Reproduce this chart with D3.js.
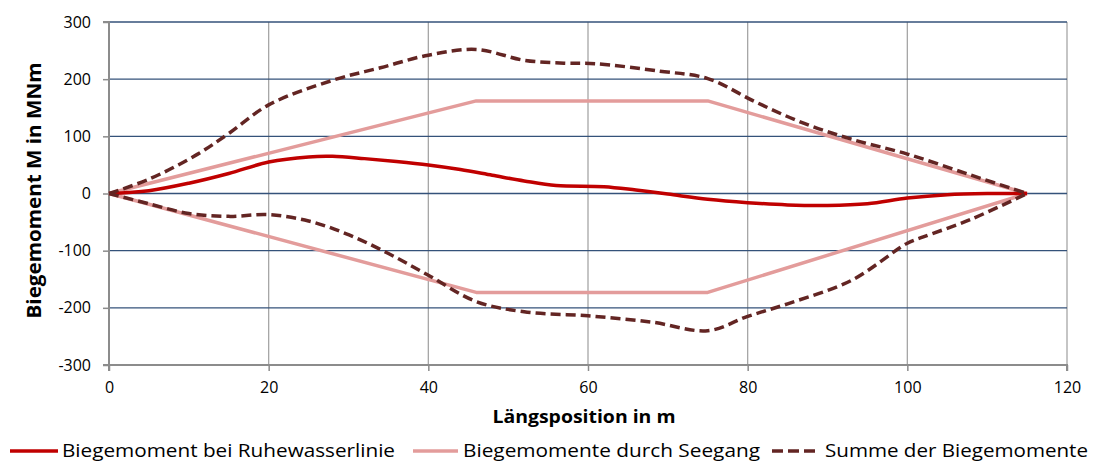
<!DOCTYPE html>
<html>
<head>
<meta charset="utf-8">
<script src="https://cdn.jsdelivr.net/npm/d3@7"></script>
<style>
  html, body { margin: 0; padding: 0; background: #fff; }
  svg { display: block; font-family: "Open Sans", "Noto Sans", sans-serif; }
</style>
</head>
<body>
<svg id="chart" width="1094" height="464"></svg>
<script>
// Längsposition (m) und Biegemomente (MNm)
const ruheX = [0, 5, 10, 15, 20, 25, 28, 32, 36, 40, 44, 48, 52, 56, 62, 66, 70, 75, 80, 85, 90, 95, 100, 105, 110, 115];
const ruheM = [0, 5, 18, 35, 55, 64, 65, 61, 56, 50, 42, 32, 22, 14, 12, 6, -1, -10, -16, -20, -21, -18, -8, -2, 0, 0];

const seegangX = [0, 46, 75, 115];
const seegangOben = [0, 162, 162, 0];
const seegangUnten = [0, -173, -173, 0];

const summeObenX = [0, 5, 11, 15, 20, 28, 34, 40, 46, 52, 57, 61, 69, 75, 81, 87, 93, 100, 108, 115];
const summeOben = [0, 25, 68, 105, 155, 198, 220, 242, 252, 233, 228, 227, 214, 201, 160, 123, 95, 69, 32, 0];

const summeUntenX = [0, 5, 10, 15, 20, 25, 30, 35, 40, 46, 52, 60, 68, 75, 80, 85, 93, 100, 102, 108, 115];
const summeUnten = [0, -18, -35, -40, -37, -48, -72, -105, -143, -189, -207, -214, -225, -240, -215, -193, -152, -87, -76, -45, 0];

const xTicks = [0, 20, 40, 60, 80, 100, 120];
const yTicks = [-300, -200, -100, 0, 100, 200, 300];

const seriesNames = ["Biegemoment bei Ruhewasserlinie", "Biegemomente durch Seegang", "Summe der Biegemomente"];

const colRuhe = "#c00000";
const colSeegang = "#e39c9b";
const colSumme = "#632523";

const svg = d3.select("#chart");
const plot = { left: 109, right: 1067, top: 22, bottom: 365 };

const x = d3.scaleLinear().domain([0, 120]).range([plot.left, plot.right]);
const y = d3.scaleLinear().domain([-300, 300]).range([plot.bottom, plot.top]);

// Gitter: vertikal grau, horizontal blau
const grid = svg.append("g");
grid.selectAll("line.v").data(xTicks.slice(1)).join("line")
  .attr("x1", d => x(d)).attr("x2", d => x(d))
  .attr("y1", plot.top).attr("y2", plot.bottom)
  .attr("stroke", "#a6a6a6").attr("stroke-width", 1.3);
grid.selectAll("line.h").data(yTicks.slice(1)).join("line")
  .attr("x1", plot.left).attr("x2", plot.right)
  .attr("y1", d => y(d)).attr("y2", d => y(d))
  .attr("stroke", "#34527a").attr("stroke-width", 1.3);

// Achsen (Beschriftung mit Bindestrich als Minuszeichen)
const fmt = d => String(d);
const axisColor = "#8c8c8c";
const yAxis = svg.append("g").attr("transform", `translate(${plot.left},0)`)
  .call(d3.axisLeft(y).tickValues(yTicks).tickSize(6).tickPadding(12).tickFormat(fmt));
const xAxis = svg.append("g").attr("transform", `translate(0,${plot.bottom})`)
  .call(d3.axisBottom(x).tickValues(xTicks).tickSize(6).tickPadding(11).tickFormat(fmt));
[yAxis, xAxis].forEach(a => {
  a.select(".domain").attr("stroke", axisColor).attr("stroke-width", 2);
  a.selectAll(".tick line").attr("stroke", axisColor).attr("stroke-width", 1.5);
  a.selectAll(".tick text").attr("fill", "#000").style("font-size", "16px")
    .style("font-family", "'Open Sans', sans-serif");
});
yAxis.select(".domain").attr("d", `M-6,${plot.top}H0V${plot.bottom}H-6`);
xAxis.select(".domain").attr("d", `M${plot.left},6V0H${plot.right}V6`);

// Achsentitel
svg.append("text")
  .attr("transform", `translate(36,${(plot.top + plot.bottom) / 2 - 3}) rotate(-90)`)
  .attr("text-anchor", "middle").attr("dominant-baseline", "middle")
  .style("font-size", "19px").style("font-weight", "bold")
  .attr("textLength", 256).attr("lengthAdjust", "spacingAndGlyphs")
  .text("Biegemoment M in MNm");
svg.append("text")
  .attr("x", 584).attr("y", 423)
  .attr("text-anchor", "middle")
  .style("font-size", "18px").style("font-weight", "bold")
  .attr("textLength", 183).attr("lengthAdjust", "spacingAndGlyphs")
  .text("Längsposition in m");

// Kurven
const smooth = d3.line().x(d => x(d[0])).y(d => y(d[1])).curve(d3.curveCatmullRom.alpha(0.5));
const straight = d3.line().x(d => x(d[0])).y(d => y(d[1]));
const zip = (a, b) => a.map((v, i) => [v, b[i]]);

const lines = svg.append("g").attr("fill", "none").attr("stroke-linejoin", "round");
lines.append("path").attr("d", straight(zip(seegangX, seegangOben)))
  .attr("stroke", colSeegang).attr("stroke-width", 3.5);
lines.append("path").attr("d", straight(zip(seegangX, seegangUnten)))
  .attr("stroke", colSeegang).attr("stroke-width", 3.5);
lines.append("path").attr("d", smooth(zip(ruheX, ruheM)))
  .attr("stroke", colRuhe).attr("stroke-width", 3.5);
lines.append("path").attr("d", smooth(zip(summeObenX, summeOben)))
  .attr("stroke", colSumme).attr("stroke-width", 3.5).attr("stroke-dasharray", "10,5");
lines.append("path").attr("d", smooth(zip(summeUntenX, summeUnten)))
  .attr("stroke", colSumme).attr("stroke-width", 3.5).attr("stroke-dasharray", "10,5");

// Legende
const legend = [
  { name: seriesNames[0], color: colRuhe, dash: null, x1: 10, x2: 58, tx: 62, tw: 333 },
  { name: seriesNames[1], color: colSeegang, dash: null, x1: 413, x2: 458, tx: 463, tw: 297 },
  { name: seriesNames[2], color: colSumme, dash: "11,5", x1: 772, x2: 816, tx: 825, tw: 263 }
];
const lg = svg.append("g");
legend.forEach(l => {
  lg.append("line").attr("x1", l.x1).attr("x2", l.x2).attr("y1", 451).attr("y2", 451)
    .attr("stroke", l.color).attr("stroke-width", 3.5)
    .attr("stroke-dasharray", l.dash);
  lg.append("text").attr("x", l.tx).attr("y", 457)
    .style("font-size", "18px")
    .attr("textLength", l.tw).attr("lengthAdjust", "spacingAndGlyphs")
    .text(l.name);
});
</script>
</body>
</html>
